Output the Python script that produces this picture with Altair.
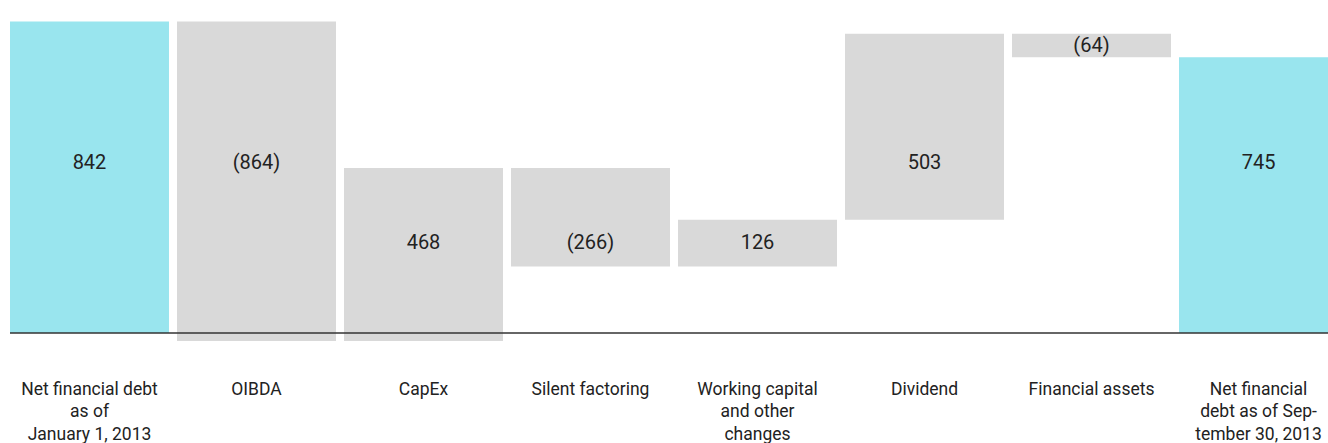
import altair as alt
import pandas as pd

categories = [
    "Net financial debt|as of|January 1, 2013",
    "OIBDA",
    "CapEx",
    "Silent factoring",
    "Working capital|and other|changes",
    "Dividend",
    "Financial assets",
    "Net financial|debt as of Sep-|tember 30, 2013",
]
values = [842, -864, 468, -266, 126, 503, -64, 745]
value_labels = ["842", "(864)", "468", "(266)", "126", "503", "(64)", "745"]
kinds = ["total", "delta", "delta", "delta", "delta", "delta", "delta", "total"]

rows = []
running = 0
for cat, val, lab, kind in zip(categories, values, value_labels, kinds):
    if kind == "total":
        start, end = 0, val
        running = val
    else:
        start, end = running, running + val
        running = end
    rows.append({"category": cat, "start": start, "end": end, "label": lab, "kind": kind})
df = pd.DataFrame(rows)

FONT = "Roboto"
TEXT = "#222222"

x_enc = alt.X(
    "category:N",
    sort=categories,
    scale=alt.Scale(range=[0, 1328], paddingInner=0.048, paddingOuter=0),
    axis=alt.Axis(
        title=None,
        domain=False,
        ticks=False,
        grid=False,
        labelAngle=0,
        labelFont=FONT,
        labelFontSize=17.5,
        labelColor=TEXT,
        labelLineHeight=22.5,
        labelPadding=30,
        labelBaseline="top",
        labelExpr="split(datum.label, '|')",
        labelLimit=0,
    ),
)
y_scale = alt.Scale(domain=[-46, 900], nice=False, zero=False)

bars = alt.Chart(df).mark_bar().encode(
    x=x_enc,
    y=alt.Y("start:Q", scale=y_scale, axis=None),
    y2="end:Q",
    color=alt.Color(
        "kind:N",
        scale=alt.Scale(domain=["total", "delta"], range=["#99E5EE", "#D9D9D9"]),
        legend=None,
    ),
)

base_line = (
    alt.Chart(df)
    .transform_aggregate(n="count()")
    .mark_rule(color="#333333", strokeWidth=1.5)
    .encode(y=alt.datum(0))
)

texts = alt.Chart(df).transform_calculate(
    lo="min(datum.start, datum.end)",
    hi="max(datum.start, datum.end)",
).transform_calculate(
    label_y="(datum.lo <= 460 && datum.hi >= 460) ? 460 : ((datum.lo <= 243 && datum.hi >= 243) ? 243 : (datum.lo + datum.hi) / 2)"
).mark_text(font=FONT, fontSize=20, color=TEXT, baseline="middle", align="center").encode(
    x=alt.X("category:N", sort=categories),
    y=alt.Y("label_y:Q", scale=y_scale),
    text="label:N",
)

chart = (
    alt.layer(bars, base_line, texts)
    .properties(
        width=1318,
        height=350,
        background="white",
        autosize=alt.AutoSizeParams(type="none"),
        padding={"left": 10, "top": 0, "right": 0, "bottom": 93},
    )
    .configure_view(strokeWidth=0, stroke=None)
)

chart.save("out.html", embed_options={"renderer": "svg", "actions": False})
